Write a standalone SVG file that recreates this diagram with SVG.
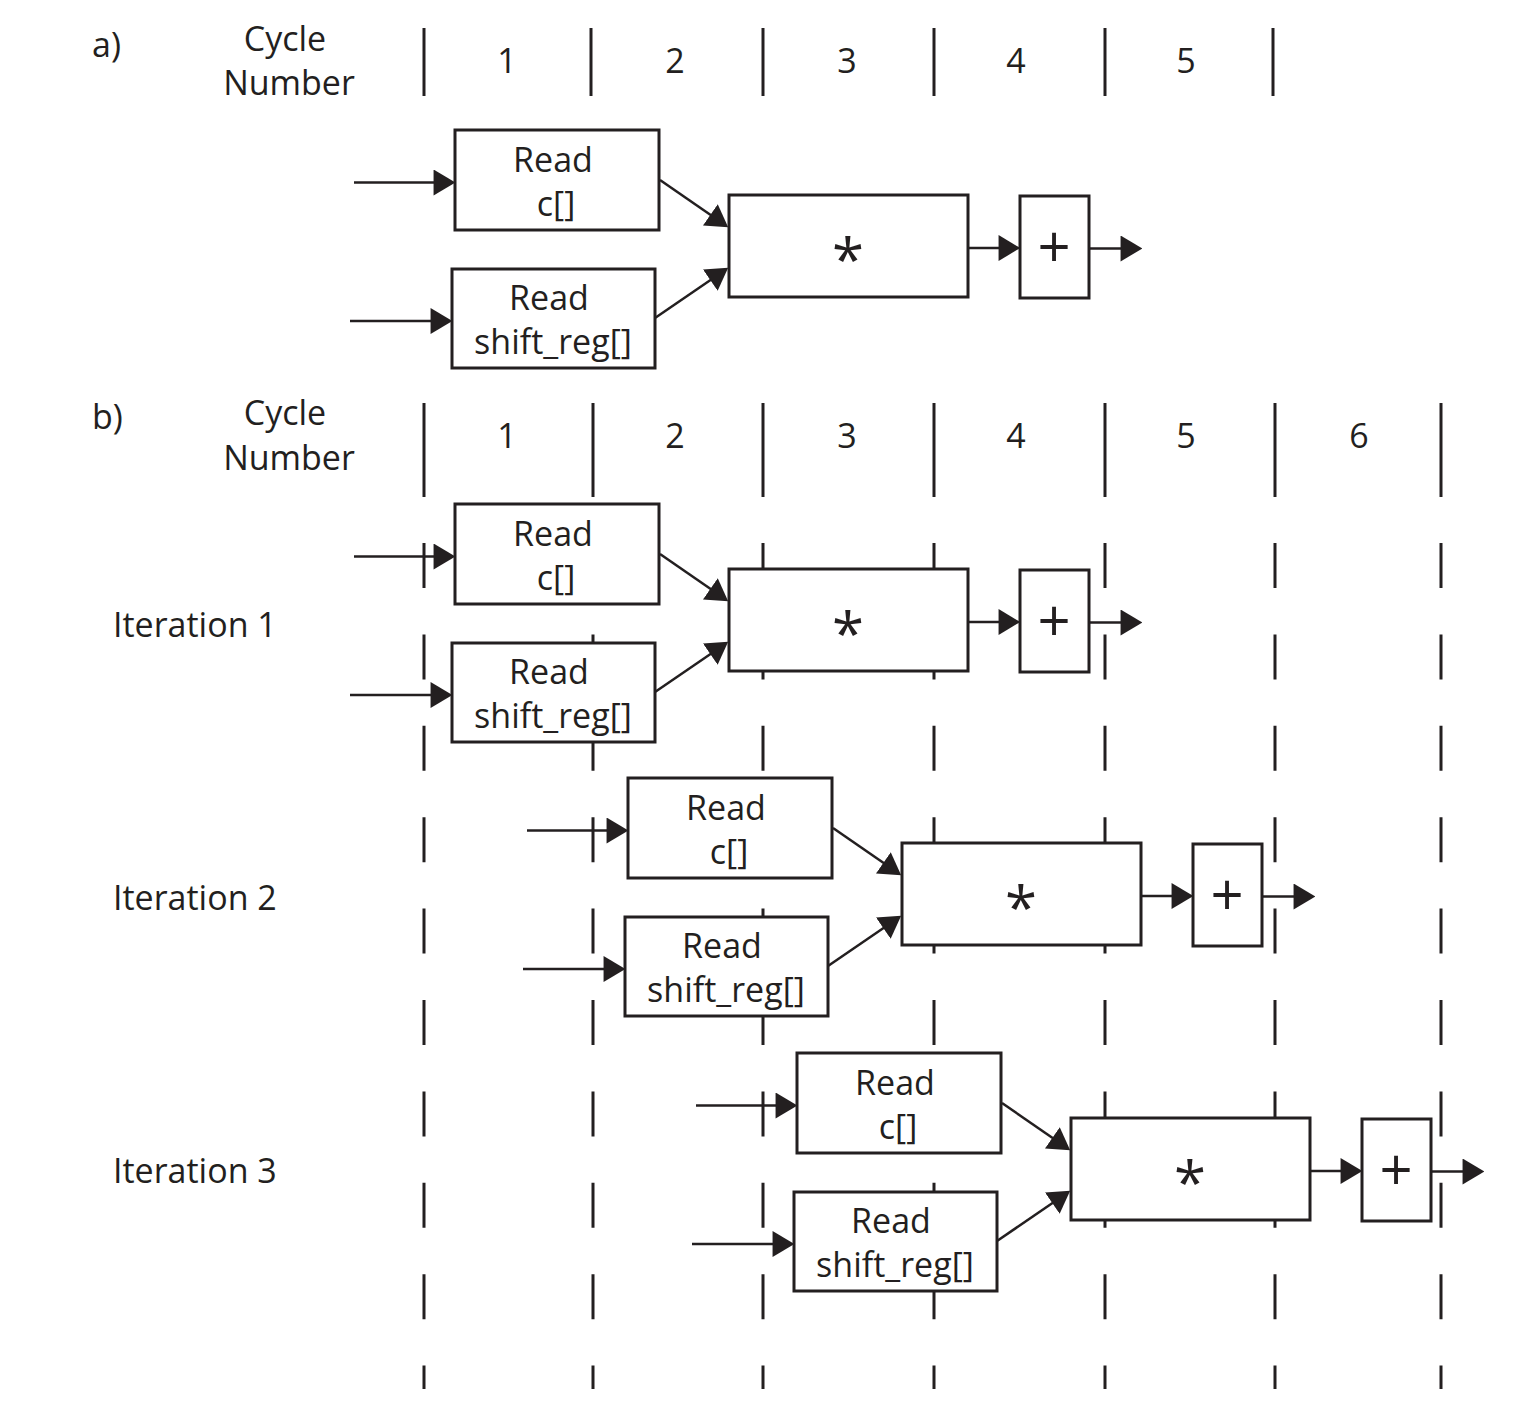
<svg xmlns="http://www.w3.org/2000/svg" width="1538" height="1405" viewBox="0 0 1538 1405">
<style>
text{font-family:"Open Sans","Noto Sans","Liberation Sans",sans-serif;fill:#231f20;font-size:34px}
.c{text-anchor:middle}
.box{fill:#fff;stroke:#231f20;stroke-width:3}
.grid{stroke:#231f20;stroke-width:3}
.dash{stroke:#231f20;stroke-width:3;stroke-dasharray:45 46.4}
.conn{stroke:#231f20;stroke-width:2.5;fill:none;marker-end:url(#ah)}
.mul{font-size:58px}
.add{font-size:58px}
</style>
<defs>
<marker id="ah" markerUnits="userSpaceOnUse" markerWidth="22" markerHeight="26" viewBox="0 0 20 24" refX="17" refY="12" orient="auto">
<path d="M0,0 L20,12 L0,24 z" fill="#231f20"/>
</marker>
</defs>
<rect width="1538" height="1405" fill="#fff"/>

<g id="header-a">
<text x="92" y="57">a)</text>
<text class="c" x="285" y="51">Cycle</text>
<text class="c" x="289" y="95">Number</text>
<g class="grid">
<line x1="424" y1="28" x2="424" y2="96"/>
<line x1="591" y1="28" x2="591" y2="96"/>
<line x1="763" y1="28" x2="763" y2="96"/>
<line x1="934" y1="28" x2="934" y2="96"/>
<line x1="1105" y1="28" x2="1105" y2="96"/>
<line x1="1273" y1="28" x2="1273" y2="96"/>
</g>
<text class="c" x="507" y="73">1</text>
<text class="c" x="675" y="73">2</text>
<text class="c" x="847" y="73">3</text>
<text class="c" x="1016" y="73">4</text>
<text class="c" x="1186" y="73">5</text>
</g>

<g id="header-b">
<text x="92" y="429">b)</text>
<text class="c" x="285" y="425">Cycle</text>
<text class="c" x="289" y="470">Number</text>
<g class="grid">
<line x1="424" y1="403" x2="424" y2="497"/>
<line x1="593" y1="403" x2="593" y2="497"/>
<line x1="763" y1="403" x2="763" y2="497"/>
<line x1="934" y1="403" x2="934" y2="497"/>
<line x1="1105" y1="403" x2="1105" y2="497"/>
<line x1="1275" y1="403" x2="1275" y2="497"/>
<line x1="1441" y1="403" x2="1441" y2="497"/>
</g>
<g class="dash">
<line x1="424" y1="543" x2="424" y2="1389"/>
<line x1="593" y1="543" x2="593" y2="1389"/>
<line x1="763" y1="543" x2="763" y2="1389"/>
<line x1="934" y1="543" x2="934" y2="1389"/>
<line x1="1105" y1="543" x2="1105" y2="1389"/>
<line x1="1275" y1="543" x2="1275" y2="1389"/>
<line x1="1441" y1="543" x2="1441" y2="1389"/>
</g>
<text class="c" x="507" y="448">1</text>
<text class="c" x="675" y="448">2</text>
<text class="c" x="847" y="448">3</text>
<text class="c" x="1016" y="448">4</text>
<text class="c" x="1186" y="448">5</text>
<text class="c" x="1359" y="448">6</text>
<text x="113" y="637">Iteration 1</text>
<text x="113" y="910">Iteration 2</text>
<text x="113" y="1183">Iteration 3</text>
</g>

<g id="connectors">
<!-- a -->
<line class="conn" x1="354" y1="182.5" x2="452" y2="182.5"/>
<line class="conn" x1="350" y1="321" x2="449" y2="321"/>
<line class="conn" x1="660" y1="180" x2="725.5" y2="225.3"/>
<line class="conn" x1="655" y1="318" x2="725.5" y2="269.7"/>
<line class="conn" x1="968" y1="248" x2="1017" y2="248"/>
<line class="conn" x1="1089" y1="248.5" x2="1139" y2="248.5"/>
<!-- b iteration 1 -->
<line class="conn" x1="354" y1="556.5" x2="452" y2="556.5"/>
<line class="conn" x1="350" y1="695" x2="449" y2="695"/>
<line class="conn" x1="660" y1="554" x2="725.5" y2="599.3"/>
<line class="conn" x1="655" y1="692" x2="725.5" y2="643.7"/>
<line class="conn" x1="968" y1="622" x2="1017" y2="622"/>
<line class="conn" x1="1089" y1="622.5" x2="1139" y2="622.5"/>
<!-- b iteration 2 -->
<line class="conn" x1="527" y1="830.5" x2="625" y2="830.5"/>
<line class="conn" x1="523" y1="969" x2="622" y2="969"/>
<line class="conn" x1="833" y1="828" x2="898.5" y2="873.3"/>
<line class="conn" x1="828" y1="966" x2="898.5" y2="917.7"/>
<line class="conn" x1="1141" y1="896" x2="1190" y2="896"/>
<line class="conn" x1="1262" y1="896.5" x2="1312" y2="896.5"/>
<!-- b iteration 3 -->
<line class="conn" x1="696" y1="1105.5" x2="794" y2="1105.5"/>
<line class="conn" x1="692" y1="1244" x2="791" y2="1244"/>
<line class="conn" x1="1002" y1="1103" x2="1067.5" y2="1148.3"/>
<line class="conn" x1="997" y1="1241" x2="1067.5" y2="1192.7"/>
<line class="conn" x1="1310" y1="1171" x2="1359" y2="1171"/>
<line class="conn" x1="1431" y1="1171.5" x2="1481" y2="1171.5"/>
</g>

<g id="a-read-c"><rect class="box" x="455" y="130" width="204" height="100"/><text class="c" x="553" y="172">Read</text><text class="c" x="556" y="216">c[]</text></g>
<g id="a-read-shift"><rect class="box" x="452" y="269" width="203" height="99"/><text class="c" x="549" y="310">Read</text><text class="c" x="553" y="354">shift_reg[]</text></g>
<g id="a-mul"><rect class="box" x="729" y="195" width="239" height="102"/><text class="c mul" x="848" y="281">*</text></g>
<g id="a-add"><rect class="box" x="1020" y="196" width="69" height="102"/><text class="c add" x="1054" y="268">+</text></g>

<g id="i1-read-c"><rect class="box" x="455" y="504" width="204" height="100"/><text class="c" x="553" y="546">Read</text><text class="c" x="556" y="590">c[]</text></g>
<g id="i1-read-shift"><rect class="box" x="452" y="643" width="203" height="99"/><text class="c" x="549" y="684">Read</text><text class="c" x="553" y="728">shift_reg[]</text></g>
<g id="i1-mul"><rect class="box" x="729" y="569" width="239" height="102"/><text class="c mul" x="848" y="655">*</text></g>
<g id="i1-add"><rect class="box" x="1020" y="570" width="69" height="102"/><text class="c add" x="1054" y="642">+</text></g>

<g id="i2-read-c"><rect class="box" x="628" y="778" width="204" height="100"/><text class="c" x="726" y="820">Read</text><text class="c" x="729" y="864">c[]</text></g>
<g id="i2-read-shift"><rect class="box" x="625" y="917" width="203" height="99"/><text class="c" x="722" y="958">Read</text><text class="c" x="726" y="1002">shift_reg[]</text></g>
<g id="i2-mul"><rect class="box" x="902" y="843" width="239" height="102"/><text class="c mul" x="1021" y="929">*</text></g>
<g id="i2-add"><rect class="box" x="1193" y="844" width="69" height="102"/><text class="c add" x="1227" y="916">+</text></g>

<g id="i3-read-c"><rect class="box" x="797" y="1053" width="204" height="100"/><text class="c" x="895" y="1095">Read</text><text class="c" x="898" y="1139">c[]</text></g>
<g id="i3-read-shift"><rect class="box" x="794" y="1192" width="203" height="99"/><text class="c" x="891" y="1233">Read</text><text class="c" x="895" y="1277">shift_reg[]</text></g>
<g id="i3-mul"><rect class="box" x="1071" y="1118" width="239" height="102"/><text class="c mul" x="1190" y="1204">*</text></g>
<g id="i3-add"><rect class="box" x="1362" y="1119" width="69" height="102"/><text class="c add" x="1396" y="1191">+</text></g>
</svg>
